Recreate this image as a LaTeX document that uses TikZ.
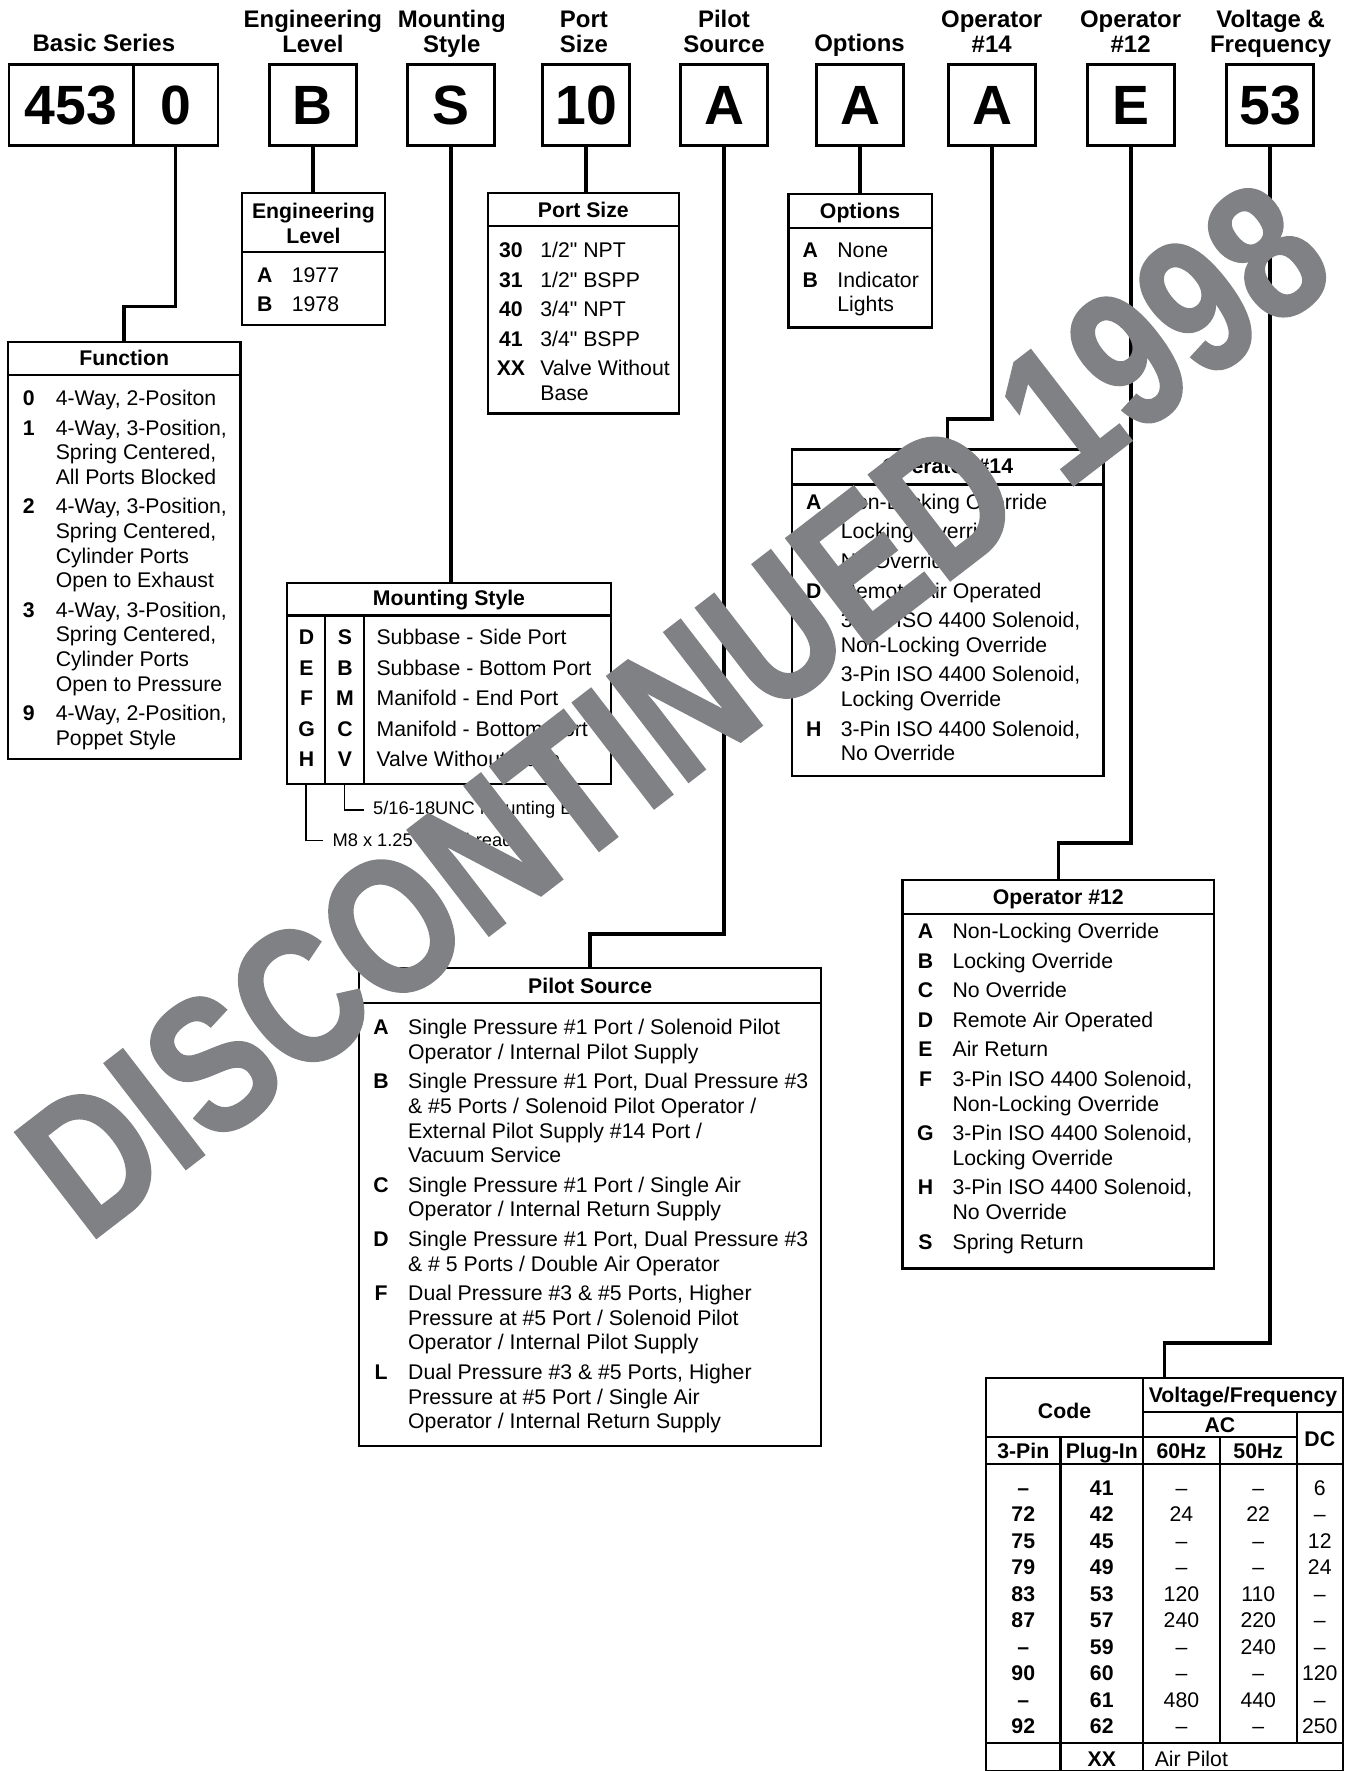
\documentclass[tikz,border=0pt]{standalone}
\usepackage{fontspec}
\setmainfont{Liberation Sans}[Ligatures=TeXOff]
\newfontfamily\stampfont{Liberation Sans}[FakeStretch=0.81, BoldFeatures={FakeBold=1.3}]
\usepackage{array}
\usetikzlibrary{positioning,fit}
\definecolor{stampGray}{RGB}{128,129,132}
\newcolumntype{K}[1]{>{\bfseries}w{c}{#1}}
\newcommand{\nx}{\\[2.2pt]}
\newcommand{\stk}[1]{\begin{tabular}[t]{@{}c@{}}#1\end{tabular}}
\newcommand{\bodyfont}{\fontsize{9.4}{10.9}\selectfont}

\begin{document}
\begin{tikzpicture}[x=0.5pt,y=-0.5pt,
  codebox/.style={draw, line width=1.2pt, minimum width=38.5pt, minimum height=36pt, inner sep=0pt, font=\fontsize{24.5}{28}\selectfont\bfseries},
  lbl/.style={anchor=base, inner sep=0pt, font=\fontsize{10.6}{11}\selectfont\bfseries},
  frame/.style={draw, line width=1pt, inner sep=0pt},
  ttl/.style={anchor=base, inner sep=0pt, font=\bodyfont\bfseries},
  body/.style={anchor=base west, inner sep=0pt, font=\bodyfont},
  conn/.style={line width=1.6pt},
  rule/.style={line width=1pt},
  leader/.style={line width=0.6pt},
  note/.style={anchor=west, inner xsep=4pt, inner ysep=0pt, font=\fontsize{8.1}{9.7}\selectfont},
  cell/.style={anchor=base, inner sep=0pt, font=\bodyfont},
  stamp/.style={anchor=base, inner sep=0pt, text=stampGray, font=\stampfont\bfseries\fontsize{85.5}{90}\selectfont}]

\useasboundingbox (0,0) rectangle (1190,1568);

% column headings
\foreach \nm/\cx/\cy/\tx in {lblBasic/92/46/Basic Series, lblEng/277/24.5/{Engineering\\Level},
  lblMnt/400/24.5/{Mounting\\Style}, lblPort/517/24.5/{Port\\Size}, lblPilot/641/24.5/{Pilot\\Source},
  lblOpt/761/46/Options, lblOp14/878/24.5/{Operator\\\#14}, lblOp12/1001/24.5/{Operator\\\#12},
  lblVolt/1125/24.5/{Voltage \&\\Frequency}}
  \node[lbl] (\nm) at (\cx,\cy) {\stk{\tx}};

% code boxes
\node[codebox, minimum width=55pt] (b453) at (63,93) {453};
\node[codebox, minimum width=37.5pt, right=-1.2pt of b453] (b0) {0};
\foreach \nm/\cx/\tx in {bEng/277/B, bMnt/399.5/S, bPort/519/10, bPilot/641/A,
  bOpt/761.5/A, bOp14/878.5/A, bOp12/1001.5/E, bVolt/1124.5/53}
  \node[codebox] (\nm) at (\cx,93) {\tx};

% Function
\node[frame, fit={(7,303) (213,672)}] (fnBox) {};
\draw[rule] (7,332) -- (213,332);
\node[ttl] (fnTitle) at (110,323.5) {Function};
\node[body] (fnList) at (1,359) {\begin{tabular}[t]{@{}K{24pt}@{}l@{}}
0 & 4-Way, 2-Positon \nx
1 & 4-Way, 3-Position,\\ & Spring Centered,\\ & All Ports Blocked \nx
2 & 4-Way, 3-Position,\\ & Spring Centered,\\ & Cylinder Ports\\ & Open to Exhaust \nx
3 & 4-Way, 3-Position,\\ & Spring Centered,\\ & Cylinder Ports\\ & Open to Pressure \nx
9 & 4-Way, 2-Position,\\ & Poppet Style
\end{tabular}};

% Engineering Level
\node[frame, fit={(214,171) (341,288)}] (engBox) {};
\draw[rule] (214,223) -- (341,223);
\node[ttl] (engTitle) at (277.5,193.5) {\stk{Engineering\\Level}};
\node[body] (engList) at (210,250) {\begin{tabular}[t]{@{}K{24pt}@{}l@{}}
A & 1977 \nx
B & 1978
\end{tabular}};

% Port Size
\node[frame, fit={(432,171) (601,366)}] (portBox) {};
\draw[rule] (432,200) -- (601,200);
\node[ttl] (portTitle) at (516.5,192.5) {Port Size};
\node[body] (portList) at (426,228) {\begin{tabular}[t]{@{}K{26pt}@{}l@{}}
30 & 1/2" NPT \nx
31 & 1/2" BSPP \nx
40 & 3/4" NPT \nx
41 & 3/4" BSPP \nx
XX & Valve Without\\ & Base
\end{tabular}};

% Options
\node[frame, fit={(698,172) (825,290)}] (optBox) {};
\draw[rule] (698,202) -- (825,202);
\node[ttl] (optTitle) at (761.5,193.5) {Options};
\node[body] (optList) at (693,228) {\begin{tabular}[t]{@{}K{24pt}@{}l@{}}
A & None \nx
B & Indicator\\ & Lights
\end{tabular}};

% Operator #14
\node[frame, fit={(701,398) (977,687)}] (op14Box) {};
\draw[rule] (701,429) -- (977,429);
\node[ttl] (op14Title) at (839,419.5) {Operator \#14};
\node[body] (op14List) at (696,451) {\begin{tabular}[t]{@{}K{24pt}@{}l@{}}
A & Non-Locking Override \nx
B & Locking Override \nx
C & No Override \nx
D & Remote Air Operated \nx
F & 3-Pin ISO 4400 Solenoid,\\ & Non-Locking Override \nx
G & 3-Pin ISO 4400 Solenoid,\\ & Locking Override \nx
H & 3-Pin ISO 4400 Solenoid,\\ & No Override
\end{tabular}};

% Mounting Style
\node[frame, fit={(254,516) (541,694)}] (mntBox) {};
\draw[rule] (254,545) -- (541,545);
\draw[rule] (288,545) -- (288,694);
\draw[rule] (322,545) -- (322,694);
\node[ttl] (mntTitle) at (397.5,536.5) {Mounting Style};
\node[body] (mntList) at (254,571) {\begin{tabular}[t]{@{}K{17pt}@{}K{17pt}@{\hspace{5.5pt}}l@{}}
D & S & Subbase - Side Port \\[2.6pt]
E & B & Subbase - Bottom Port \\[2.6pt]
F & M & Manifold - End Port \\[2.6pt]
G & C & Manifold - Bottom Port \\[2.6pt]
H & V & Valve Without Base
\end{tabular}};
\coordinate (colV) at (305,694);
\coordinate (colH) at (271,694);
\node[note] (boltV) at (322,717) {5/16-18UNC Mounting Bolt};
\node[note] (boltH) at (286,744) {M8 x 1.25 Bolt Thread};
\draw[leader] (colV) |- (boltV.west);
\draw[leader] (colH) |- (boltH.west);

% Pilot Source
\node[frame, fit={(318,857) (727,1280)}] (pilotBox) {};
\draw[rule] (318,888) -- (727,888);
\node[ttl] (pilotTitle) at (522.5,879.5) {Pilot Source};
\node[body] (pilotList) at (313,916) {\begin{tabular}[t]{@{}K{24pt}@{}l@{}}
A & Single Pressure \#1 Port / Solenoid Pilot\\ & Operator / Internal Pilot Supply \nx
B & Single Pressure \#1 Port, Dual Pressure \#3\\ & \& \#5 Ports / Solenoid Pilot Operator /\\ & External Pilot Supply \#14 Port /\\ & Vacuum Service \nx
C & Single Pressure \#1 Port / Single Air\\ & Operator / Internal Return Supply \nx
D & Single Pressure \#1 Port, Dual Pressure \#3\\ & \& \# 5 Ports / Double Air Operator \nx
F & Dual Pressure \#3 \& \#5 Ports, Higher\\ & Pressure at \#5 Port / Solenoid Pilot\\ & Operator / Internal Pilot Supply \nx
L & Dual Pressure \#3 \& \#5 Ports, Higher\\ & Pressure at \#5 Port / Single Air\\ & Operator / Internal Return Supply
\end{tabular}};

% Operator #12
\node[frame, fit={(799,779) (1075,1123)}] (op12Box) {};
\draw[rule] (799,809) -- (1075,809);
\node[ttl] (op12Title) at (937,800.5) {Operator \#12};
\node[body] (op12List) at (795,831) {\begin{tabular}[t]{@{}K{24pt}@{}l@{}}
A & Non-Locking Override \nx
B & Locking Override \nx
C & No Override \nx
D & Remote Air Operated \nx
E & Air Return \nx
F & 3-Pin ISO 4400 Solenoid,\\ & Non-Locking Override \nx
G & 3-Pin ISO 4400 Solenoid,\\ & Locking Override \nx
H & 3-Pin ISO 4400 Solenoid,\\ & No Override \nx
S & Spring Return
\end{tabular}};

% Voltage & Frequency table
\node[frame, fit={(873,1220) (1189,1568)}] (voltBox) {};
\draw[rule] (1012,1220) -- (1012,1568);
\draw[rule] (939,1272) -- (939,1568);
\draw[rule] (1080,1272) -- (1080,1543);
\draw[rule] (1148,1250) -- (1148,1543);
\draw[rule] (1012,1250) -- (1189,1250);
\draw[rule] (873,1272) -- (1148,1272);
\draw[rule] (873,1296) -- (1189,1296);
\draw[rule] (873,1543) -- (1189,1543);
\node[ttl] (hCode) at (942.5,1255.7) {Code};
\node[ttl] (hVF) at (1100.5,1241.7) {Voltage/Frequency};
\node[ttl] (hAC) at (1080,1268.7) {AC};
\node[ttl] (hDC) at (1168.5,1280.7) {DC};
\node[ttl] (hPin) at (906,1291.7) {3-Pin};
\node[ttl] (hPlug) at (975.5,1291.7) {Plug-In};
\node[ttl] (h60) at (1046,1291.7) {60Hz};
\node[ttl] (h50) at (1114,1291.7) {50Hz};
\foreach \va/\vb/\vc/\vd/\ve [count=\i from 0] in {–/41/–/–/6, 72/42/24/22/–, 75/45/–/–/12,
  79/49/–/–/24, 83/53/120/110/–, 87/57/240/220/–, –/59/–/240/–, 90/60/–/–/120,
  –/61/480/440/–, 92/62/–/–/250}{
  \pgfmathsetmacro\ry{1323.7+23.5*\i}
  \node[cell, font=\bodyfont\bfseries] (pin\i) at (906,\ry) {\va};
  \node[cell, font=\bodyfont\bfseries] (plug\i) at (975.5,\ry) {\vb};
  \node[cell] (hzA\i) at (1046,\ry) {\vc};
  \node[cell] (hzB\i) at (1114,\ry) {\vd};
  \node[cell] (dc\i) at (1168.5,\ry) {\ve};
}
\node[cell, font=\bodyfont\bfseries] (plugXX) at (975.5,1563.7) {XX};
\node[body] (airPilot) at (1022,1563.7) {Air Pilot};

% connectors
\draw[conn] (b0.south) -- ++(0,141) -| (fnBox.north);
\draw[conn] (bEng.south) -- (bEng.south |- engBox.north);
\draw[conn] (bMnt.south) -- (bMnt.south |- mntBox.north);
\draw[conn] (bPort.south) -- (bPort.south |- portBox.north);
\draw[conn] (bPilot.south) -- ++(0,697) -| (pilotBox.north);
\draw[conn] (bOpt.south) -- (bOpt.south |- optBox.north);
\draw[conn] (bOp14.south) -- ++(0,241) -| (op14Box.north);
\draw[conn] (bOp12.south) -- ++(0,616) -| (op12Box.north);
\draw[conn] (bVolt.south) -- ++(0,1059) -| (voltBox.north);

% stamp
\node[stamp, rotate=37.6] (wm) at (633,674) {DISCONTINUED 1998};
\end{tikzpicture}
\end{document}
